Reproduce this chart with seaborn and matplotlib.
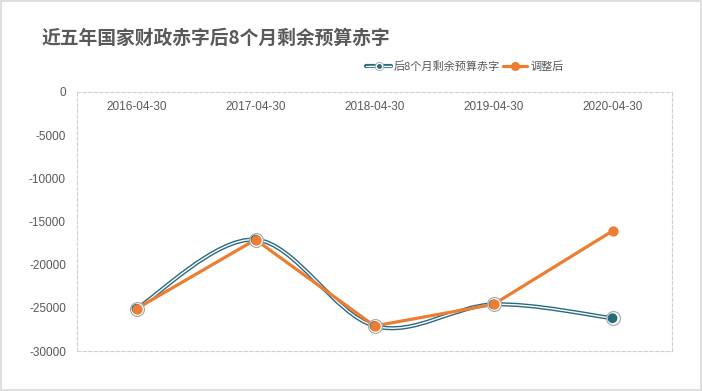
import matplotlib
matplotlib.use("Agg")
import matplotlib.pyplot as plt
import seaborn as sns
import pandas as pd
import numpy as np
from matplotlib.path import Path
from matplotlib.patches import PathPatch, Rectangle
from matplotlib.lines import Line2D
from matplotlib.legend_handler import HandlerTuple

# ---- data ----
dates = ["2016-04-30", "2017-04-30", "2018-04-30", "2019-04-30", "2020-04-30"]
deficit = [-25100, -17100, -27100, -24600, -26200]
adjusted = [-25100, -17100, -27100, -24600, -16100]
yticks = [0, -5000, -10000, -15000, -20000, -25000, -30000]
title = "近五年国家财政赤字后8个月剩余预算赤字"
name_a = "后8个月剩余预算赤字"
name_b = "调整后"

TEAL = "#2b6a7d"
ORANGE = "#ed7d31"
GRAY = "#595959"
TICKFONT = ["Liberation Sans", "DejaVu Sans"]

sns.set_theme(style="white")
plt.rcParams["font.family"] = ["Noto Sans CJK SC", "DejaVu Sans"]

fig = plt.figure(figsize=(7.02, 3.91), dpi=100)
ax = fig.add_axes([77 / 702, 1 - 351 / 391, (672 - 77) / 702, (351 - 92) / 391])

df = pd.DataFrame({"date": dates, "x": np.arange(len(dates)),
                   "deficit": deficit, "adjusted": adjusted})

# smooth (Bezier) path for the first series, built from its values
xs = df["x"].to_numpy(float)
ys = df["deficit"].to_numpy(float)
n = len(xs)
verts = [(xs[0], ys[0])]
codes = [Path.MOVETO]
for i in range(n - 1):
    p0 = np.array([xs[max(i - 1, 0)], ys[max(i - 1, 0)]])
    p1 = np.array([xs[i], ys[i]])
    p2 = np.array([xs[i + 1], ys[i + 1]])
    p3 = np.array([xs[min(i + 2, n - 1)], ys[min(i + 2, n - 1)]])
    c1 = p1 + (p2 - p0) / 6
    c2 = p2 - (p3 - p1) / 6
    verts += [tuple(c1), tuple(c2), tuple(p2)]
    codes += [Path.CURVE4] * 3
path = Path(verts, codes)
ax.add_patch(PathPatch(path, fill=False, edgecolor=TEAL, lw=3.0, zorder=3, capstyle="round"))
ax.add_patch(PathPatch(path, fill=False, edgecolor="white", lw=1.0, zorder=3.1))

# orange straight line
sns.lineplot(data=df, x="x", y="adjusted", ax=ax, color=ORANGE, lw=2.3,
             zorder=4, legend=False)

# markers
ax.scatter(xs, ys, s=100, color="white", edgecolors="#a6a6a6", linewidths=0.8, zorder=5)
ax.scatter(xs, ys, s=50, color=TEAL, edgecolors="none", zorder=5.1)
sns.scatterplot(data=df, x="x", y="adjusted", ax=ax, s=55, color=ORANGE,
                edgecolor=ORANGE, linewidth=0, zorder=6, legend=False)

ax.set_xlim(-0.5, n - 0.5)
ax.set_ylim(-30000, 0)
ax.set_yticks(yticks)
ax.set_yticklabels([str(v) for v in yticks], color=GRAY, fontsize=8.5, family=TICKFONT)
ax.set_xticks(df["x"])
ax.set_xticklabels(dates, color=GRAY, fontsize=8.5, family=TICKFONT)
ax.xaxis.set_ticks_position("top")
ax.tick_params(axis="x", length=0, pad=-15)
ax.tick_params(axis="y", length=0, pad=8)
ax.set_xlabel("")
ax.set_ylabel("")
for s in ax.spines.values():
    s.set_visible(True)
    s.set_color("#d0d0d0")
    s.set_linestyle((0, (3, 2)))
    s.set_linewidth(0.8)
ax.grid(False)

fig.text(42 / 702, 1 - 38 / 391, title, fontsize=13.5, fontweight="bold",
         color=GRAY, ha="left", va="center")

# legend
h_a = (Line2D([], [], color=TEAL, lw=3.0),
       Line2D([], [], color="white", lw=1.0),
       Line2D([], [], ls="none", marker="o", ms=6, mfc="white", mec="#a6a6a6", mew=0.6),
       Line2D([], [], ls="none", marker="o", ms=3.5, mfc=TEAL, mec="none"))
h_b = Line2D([], [], color=ORANGE, lw=2.3, marker="o", ms=5.5)
fig.legend([h_a, h_b], [name_a, name_b], handler_map={tuple: HandlerTuple(ndivide=1, pad=0)},
           loc="center", bbox_to_anchor=(465 / 702, 1 - 67 / 391), ncol=2, frameon=False,
           fontsize=8, handlelength=2.2, handletextpad=0.3, columnspacing=0.2,
           labelcolor=GRAY)

fig.add_artist(Rectangle((0.001, 0.003), 0.997, 0.995, transform=fig.transFigure,
                         fill=False, edgecolor="#d9d9d9", lw=1.2))

fig.savefig("out.png", dpi=100)
